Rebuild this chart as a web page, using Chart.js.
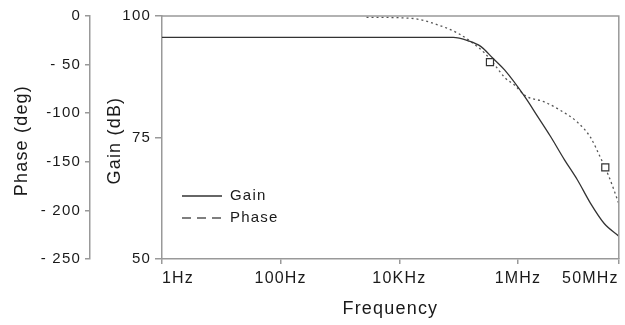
<!DOCTYPE html>
<html>
<head>
<meta charset="utf-8">
<script src="https://cdn.jsdelivr.net/npm/chart.js@4.4.1/dist/chart.umd.min.js"></script>
<style>
html, body { margin: 0; padding: 0; background: #fff; }
#wrap { width: 625px; height: 325px; }
</style>
</head>
<body>
<div id="wrap"><canvas id="bode" width="625" height="325"></canvas></div>
<script>
// axis ticks
const freqTicks = [1, 100, 1e4, 1e6, 5e7];
const freqTickLabels = ['1Hz', '100Hz', '10KHz', '1MHz', '50MHz'];
const gainTicks = [50, 75, 100];
const phaseTicks = [0, -50, -100, -150, -200, -250];
const phaseTickLabels = ['0', '- 50', '-100', '-150', '- 200', '- 250'];

// gain curve (Hz, dB)
const gainFreq = [1, 1e3, 3e4, 8.1e4, 1.44e5, 2.38e5, 3.78e5, 5.94e5, 1.3e6, 2.15e6, 3.54e6, 6.08e6, 1e7, 1.66e7, 2.84e7, 5e7];
const gainDb = [95.6, 95.6, 95.6, 95.6, 94.9, 93.7, 91.3, 88.9, 83.4, 79.3, 75.2, 70.4, 66.3, 61.5, 57.3, 54.7];

// phase curve (Hz, deg)
const phaseFreq = [2.8e3, 1.6e4, 4.54e4, 9.82e4, 1.62e5, 2.78e5, 4.09e5, 6.01e5, 8.84e5, 1.3e6, 2.81e6, 5.21e6, 1e7, 1.66e7, 2.44e7, 3.45e7, 5e7];
const phaseDeg = [-1.3, -2.4, -9.3, -17.9, -26.5, -38.5, -50.6, -63.5, -71.3, -81.6, -88.5, -97.1, -109.2, -124.7, -145.4, -166, -193];

// square markers on the phase curve
const markFreq = [3.37e5, 2.96e7];
const markDeg = [-47.5, -155.7];

const txt = '#1a1a1a';
const axisCol = '#999';
const family = "'Liberation Sans', Arial, sans-serif";

function pts(xs, ys) {
    return xs.map((x, i) => ({ x: x, y: ys[i] }));
}

// the original lettering is a bit wider than Arial
const spacingPlugin = {
    id: 'spacing',
    beforeUpdate(chart) { chart.ctx.letterSpacing = '1.2px'; },
    beforeDraw(chart) { chart.ctx.letterSpacing = '1.2px'; }
};

// top/right sides of the plot box
const boxPlugin = {
    id: 'box',
    afterDraw(chart) {
        const { ctx, chartArea: a } = chart;
        ctx.save();
        ctx.strokeStyle = axisCol;
        ctx.lineWidth = 1.5;
        ctx.beginPath();
        ctx.moveTo(a.left, a.top);
        ctx.lineTo(a.right, a.top);
        ctx.lineTo(a.right, a.bottom);
        ctx.stroke();
        ctx.restore();
    }
};

// legend inside the plot
const legendPlugin = {
    id: 'innerLegend',
    afterDatasetsDraw(chart) {
        const { ctx, chartArea: a } = chart;
        const items = chart.data.datasets.filter(d => d.inLegend);
        ctx.save();
        ctx.font = '15px ' + family;
        ctx.textBaseline = 'middle';
        items.forEach((d, i) => {
            const y = a.top + 180 + i * 22;
            const x = a.left + 20;
            ctx.strokeStyle = d.borderColor;
            ctx.lineWidth = 1.3;
            ctx.setLineDash(d.legendDash || []);
            ctx.beginPath();
            ctx.moveTo(x, y);
            ctx.lineTo(x + 40, y);
            ctx.stroke();
            ctx.setLineDash([]);
            ctx.fillStyle = txt;
            ctx.fillText(d.label, x + 48, y);
        });
        ctx.restore();
    }
};

new Chart(document.getElementById('bode'), {
    type: 'line',
    data: {
        datasets: [
            {
                label: 'marks',
                data: pts(markFreq, markDeg),
                yAxisID: 'phase',
                showLine: false,
                pointStyle: 'rect',
                pointRadius: 5,
                pointBorderWidth: 1.2,
                pointBorderColor: '#333',
                pointBackgroundColor: '#fff'
            },
            {
                label: 'Gain',
                inLegend: true,
                data: pts(gainFreq, gainDb),
                yAxisID: 'gain',
                borderColor: '#333',
                borderWidth: 1.3,
                pointRadius: 0,
                cubicInterpolationMode: 'monotone'
            },
            {
                label: 'Phase',
                inLegend: true,
                legendDash: [9, 6],
                data: pts(phaseFreq, phaseDeg),
                yAxisID: 'phase',
                borderColor: '#555',
                borderWidth: 1.3,
                borderDash: [2, 3],
                pointRadius: 0,
                cubicInterpolationMode: 'monotone'
            }
        ]
    },
    options: {
        responsive: false,
        animation: false,
        devicePixelRatio: 1,
        layout: { padding: { top: 16, right: 3, left: 0, bottom: 0 } },
        plugins: {
            legend: { display: false },
            tooltip: { enabled: false }
        },
        scales: {
            x: {
                type: 'logarithmic',
                position: 'bottom',
                min: 1,
                max: 5e7,
                afterBuildTicks: s => { s.ticks = freqTicks.map(v => ({ value: v })); },
                afterFit: s => { s.height = 66; },
                ticks: {
                    autoSkip: false,
                    maxRotation: 0,
                    align: 'inner',
                    padding: 5,
                    color: txt,
                    font: { family: family, size: 16 },
                    callback: v => freqTickLabels[freqTicks.indexOf(v)]
                },
                grid: { drawOnChartArea: false, tickLength: 5, color: axisCol, lineWidth: 1.5 },
                border: { color: axisCol, width: 1.5 },
                title: {
                    display: true,
                    text: 'Frequency',
                    color: txt,
                    font: { family: family, size: 18 },
                    padding: { top: 0, bottom: 5 }
                }
            },
            gain: {
                type: 'linear',
                position: 'left',
                weight: 0,
                min: 50,
                max: 100,
                afterBuildTicks: s => { s.ticks = gainTicks.map(v => ({ value: v })); },
                afterFit: s => { s.width = 72; },
                ticks: {
                    padding: 4,
                    color: txt,
                    font: { family: family, size: 15 }
                },
                grid: { drawOnChartArea: false, tickLength: 7, color: axisCol, lineWidth: 1.5 },
                border: { color: axisCol, width: 1.5 },
                title: {
                    display: true,
                    text: 'Gain (dB) ',
                    color: txt,
                    font: { family: family, size: 18 },
                    padding: { top: 14, bottom: 0 }
                }
            },
            phase: {
                type: 'linear',
                position: 'left',
                weight: 1,
                min: -250,
                max: 0,
                afterBuildTicks: s => { s.ticks = phaseTicks.map(v => ({ value: v })); },
                afterFit: s => { s.width = 90; },
                ticks: {
                    padding: 4,
                    color: txt,
                    font: { family: family, size: 15 },
                    callback: v => phaseTickLabels[phaseTicks.indexOf(v)]
                },
                grid: { drawOnChartArea: false, tickLength: 5, color: axisCol, lineWidth: 1.5 },
                border: { color: axisCol, width: 1.5 },
                title: {
                    display: true,
                    text: 'Phase (deg) ',
                    color: txt,
                    font: { family: family, size: 18 },
                    padding: { top: 11, bottom: 0 }
                }
            }
        }
    },
    plugins: [spacingPlugin, boxPlugin, legendPlugin]
});
</script>
</body>
</html>
